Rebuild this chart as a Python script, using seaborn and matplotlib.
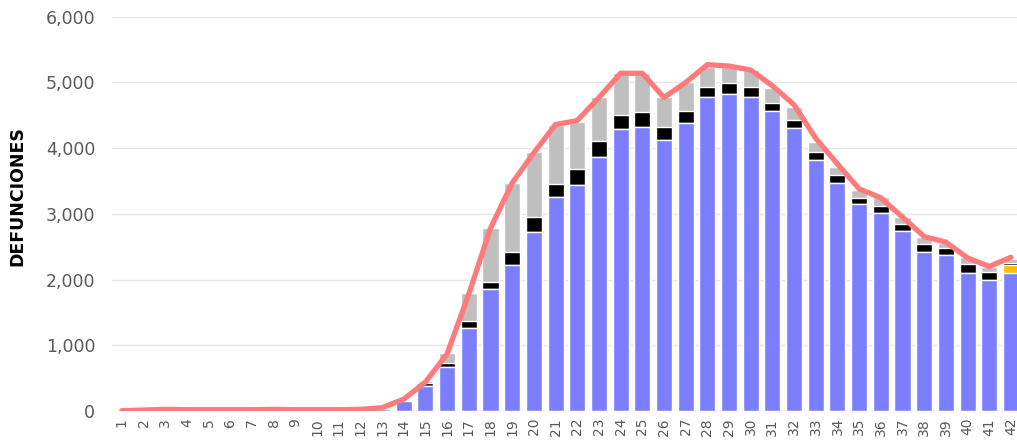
import matplotlib
matplotlib.use("Agg")
import matplotlib.pyplot as plt
import seaborn as sns
import numpy as np
import pandas as pd
from matplotlib.ticker import FuncFormatter

# weekly deaths, stacked segments (bottom to top: blue, yellow, black, gray)
weeks = [str(w) for w in range(1, 43)]
blue = [0, 0, 0, 0, 0, 0, 0, 0, 0, 0, 0, 0, 30, 150, 380, 665, 1260, 1850, 2220, 2725,
        3250, 3440, 3870, 4290, 4320, 4125, 4380, 4775, 4825, 4785, 4565, 4305, 3820,
        3475, 3150, 3010, 2740, 2420, 2370, 2105, 1995, 2105]
yellow = [0] * 41 + [115]
black = [0, 0, 0, 0, 0, 0, 0, 0, 0, 0, 0, 0, 5, 20, 40, 60, 110, 115, 205, 225,
         200, 240, 240, 220, 235, 195, 190, 160, 165, 145, 125, 125, 115, 110, 90,
         110, 100, 115, 105, 130, 125, 35]
gray = [0, 0, 0, 0, 0, 0, 0, 0, 0, 0, 0, 0, 5, 10, 40, 165, 420, 815, 1045, 985,
        910, 720, 665, 630, 585, 465, 440, 305, 250, 265, 220, 190, 155, 130, 125,
        130, 115, 115, 85, 105, 65, 65]
# smoothed trend line (total deaths)
trend = [5, 15, 25, 20, 20, 20, 20, 25, 20, 20, 20, 25, 50, 180, 440, 870, 1780, 2780,
         3470, 3930, 4360, 4420, 4770, 5140, 5140, 4770, 5000, 5270, 5250, 5190, 4950,
         4660, 4150, 3760, 3380, 3245, 2950, 2655, 2570, 2330, 2200, 2340]

df = pd.DataFrame({"week": weeks, "blue": blue, "yellow": yellow,
                   "black": black, "gray": gray, "trend": trend})
df["l_yellow"] = df["blue"] + df["yellow"]
df["l_black"] = df["l_yellow"] + df["black"]
df["l_gray"] = df["l_black"] + df["gray"]

sns.set_style("white")
plt.rcParams["font.family"] = ["DejaVu Sans"]

fig = plt.figure(figsize=(10.17, 4.41), dpi=100)
ax = fig.add_axes([0.110, 0.068, 0.890, 0.894])

w = 0.74
layers = [("l_gray", "#bfbfbf"), ("l_black", "#000000"),
          ("l_yellow", "#ffc000"), ("blue", "#7b7fff")]
for col, color in layers:
    sns.barplot(data=df, x="week", y=col, color=color, width=w,
                saturation=1, ax=ax, zorder=2)

sns.lineplot(x=np.arange(len(weeks)), y=df["trend"], color="#ff7b7b",
             linewidth=3.8, ax=ax, zorder=3, solid_capstyle="round",
             solid_joinstyle="round")

ax.set_ylim(0, 6000)
ax.set_xlim(-0.46, len(weeks) - 1 + 0.28)
ax.set_yticks(range(0, 6001, 1000))
ax.yaxis.set_major_formatter(FuncFormatter(lambda v, p: f"{int(v):,}"))
ax.grid(axis="y", color="#e6e6e6", linewidth=1, zorder=0)
ax.set_axisbelow(True)
for s in ax.spines.values():
    s.set_visible(False)

ax.tick_params(axis="y", length=0, pad=12, labelsize=12.5, labelcolor="#595959")
ax.tick_params(axis="x", length=0, pad=5, labelsize=10, labelcolor="#595959",
               rotation=90)
ax.set_xlabel("")
ax.set_ylabel("DEFUNCIONES", fontsize=12.5, fontweight="bold", color="black")
ax.yaxis.set_label_coords(-0.094, 0.546)

fig.savefig("out.png", dpi=100)
